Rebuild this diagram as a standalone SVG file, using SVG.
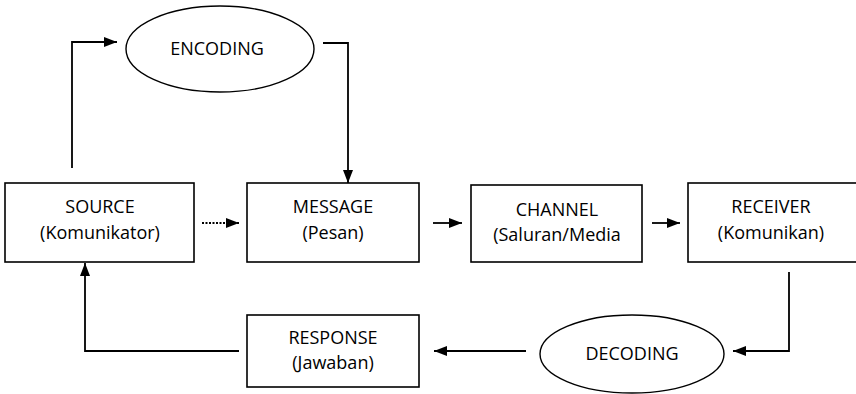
<svg xmlns="http://www.w3.org/2000/svg" width="856" height="394" viewBox="0 0 856 394">
<style>
  .box { fill: #fff; stroke: #000; stroke-width: 1.6; }
  .ell { fill: #fff; stroke: #000; stroke-width: 1.4; }
  .lbl { font-family: "Open Sans", "Liberation Sans", sans-serif; font-size: 18px; fill: #000; text-anchor: middle; }
  .ln { fill: none; stroke: #000; stroke-width: 1.8; }
  .dot { fill: none; stroke: #000; stroke-width: 1.8; stroke-dasharray: 2 1.5; }
</style>
<defs>
  <marker id="ah2" markerWidth="13" markerHeight="10" refX="13" refY="5" orient="auto" markerUnits="userSpaceOnUse" viewBox="0 0 13 10">
    <path d="M0,0 L13,5 L0,10 Z" fill="#000"/>
  </marker>
</defs>
<rect width="856" height="394" fill="#fff"/>
<g id="connectors">
  <path class="ln" d="M72,168 L72,42 L117,42" marker-end="url(#ah2)"/>
  <path class="ln" d="M323,43 L348,43 L348,183" marker-end="url(#ah2)"/>
  <path class="dot" d="M202,223 L239,223" marker-end="url(#ah2)"/>
  <path class="ln" d="M433,223 L462,223" marker-end="url(#ah2)"/>
  <path class="ln" d="M652,223 L680,223" marker-end="url(#ah2)"/>
  <path class="ln" d="M789,272 L789,351 L733,351" marker-end="url(#ah2)"/>
  <path class="ln" d="M526,351 L434,351" marker-end="url(#ah2)"/>
  <path class="ln" d="M239,351 L85,351 L85,263" marker-end="url(#ah2)"/>
</g>
<g id="encoding">
  <ellipse class="ell" cx="220" cy="49" rx="94" ry="43"/>
  <text class="lbl" x="217" y="55">ENCODING</text>
</g>
<g id="source">
  <rect class="box" x="5" y="183" width="189" height="79"/>
  <text class="lbl" x="100" y="213">SOURCE</text>
  <text class="lbl" x="100" y="239">(Komunikator)</text>
</g>
<g id="message">
  <rect class="box" x="247" y="183" width="172" height="79"/>
  <text class="lbl" x="333" y="213">MESSAGE</text>
  <text class="lbl" x="333" y="239">(Pesan)</text>
</g>
<g id="channel">
  <rect class="box" x="471" y="185" width="171" height="77"/>
  <text class="lbl" x="557" y="216">CHANNEL</text>
  <text class="lbl" x="557" y="241">(Saluran/Media</text>
</g>
<g id="receiver">
  <rect class="box" x="688" y="183" width="170" height="79"/>
  <text class="lbl" x="771" y="213">RECEIVER</text>
  <text class="lbl" x="771" y="239">(Komunikan)</text>
</g>
<g id="response">
  <rect class="box" x="247" y="315" width="172" height="72"/>
  <text class="lbl" x="333" y="344">RESPONSE</text>
  <text class="lbl" x="333" y="369">(Jawaban)</text>
</g>
<g id="decoding">
  <ellipse class="ell" cx="632" cy="354" rx="92" ry="39"/>
  <text class="lbl" x="632" y="360">DECODING</text>
</g>
</svg>
